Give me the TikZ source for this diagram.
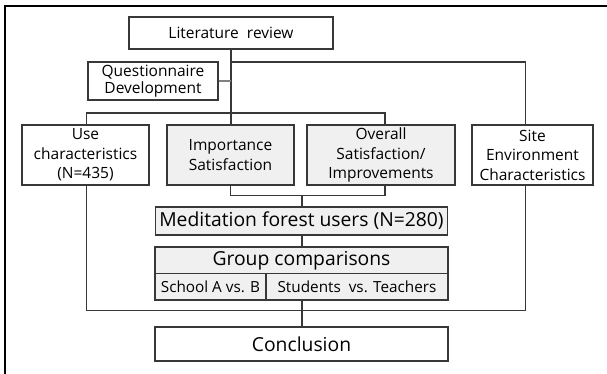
\documentclass[tikz,border=0pt]{standalone}
\usepackage{fontspec}
\setmainfont{Open Sans}
\definecolor{ln}{HTML}{383838}
\definecolor{bx}{HTML}{F0F0F0}
\definecolor{gl}{HTML}{808080}
\begin{document}
\begin{tikzpicture}[x=1pt,y=-1pt,
  box/.style={draw=ln,line width=1.1pt,rectangle,inner sep=0pt,align=center,text=black,
    font=\fontsize{15.5}{19.5}\selectfont},
  gbox/.style={box,fill=bx},
  big/.style={font=\fontsize{19.3}{22}\selectfont},
  small/.style={font=\fontsize{15.3}{17}\selectfont},
  conn/.style={draw=ln,line width=1.1pt}]
\useasboundingbox (0,0) rectangle (607,374);
\clip (0,0) rectangle (607,374);
\draw[line width=1.3pt,draw=black] (5,6) rectangle (650,420);
% nodes
\node[box,minimum width=204pt,minimum height=32pt] (lit) at (231,33) {Literature\ \ review};
\node[box,minimum width=130pt,minimum height=38pt,font=\fontsize{15.5}{17}\selectfont] (quest) at (153,81) {Questionnaire\\Development};
\node[box,minimum width=127pt,minimum height=60pt] (use) at (85.5,155) {Use\\characteristics\\(N=435)};
\node[gbox,minimum width=127pt,minimum height=60pt] (imp) at (230.5,155) {Importance\\Satisfaction};
\node[gbox,minimum width=148pt,minimum height=60pt] (ovr) at (381,155) {Overall\\Satisfaction/\\Improvements};
\node[box,minimum width=121pt,minimum height=60pt] (site) at (532.5,155) {Site\\Environment\\Characteristics};
\node[gbox,big,minimum width=292pt,minimum height=28pt] (med) at (301.5,221) {Meditation forest users (N=280)};
\node[gbox,big,minimum width=293pt,minimum height=26.5pt] (grp) at (301.5,260.25) {Group comparisons};
\node[gbox,small,minimum width=111pt,minimum height=26.5pt] (sch) at (210.5,286.75) {School A vs. B};
\node[gbox,small,minimum width=182pt,minimum height=26.5pt] (stu) at (357,286.75) {Students\ \ vs. Teachers};
\node[box,big,minimum width=293pt,minimum height=34pt] (con) at (301.5,344) {Conclusion};
% helper coordinates
\coordinate (br1) at (230,62);
\coordinate (siteIn) at (525.5,0);
\coordinate (h1) at (86.7,113);
\coordinate (ovrIn) at (385,0);
\coordinate (brk) at (0,195.3);
\coordinate (mid) at (302,0);
\coordinate (low) at (0,310.7);
% connectors
\draw[conn] (lit.south) -- (lit.south |- imp.north);
\draw[conn] (br1) -| (siteIn |- site.north);
\draw[draw=gl,line width=2pt] (quest.east) -- (lit.south |- quest.east);
\draw[conn] (h1 |- use.north) |- (ovrIn |- h1) -- (ovrIn |- ovr.north);
\draw[conn] (imp.south) |- (ovrIn |- brk) -- (ovrIn |- ovr.south);
\draw[conn] (mid |- brk) -- (mid |- med.north);
\draw[conn] (mid |- med.south) -- (mid |- grp.north);
\draw[conn] (mid |- stu.south) -- (mid |- con.north);
\draw[conn] (h1 |- use.south) |- (siteIn |- low) -- (siteIn |- site.south);
\end{tikzpicture}
\end{document}
